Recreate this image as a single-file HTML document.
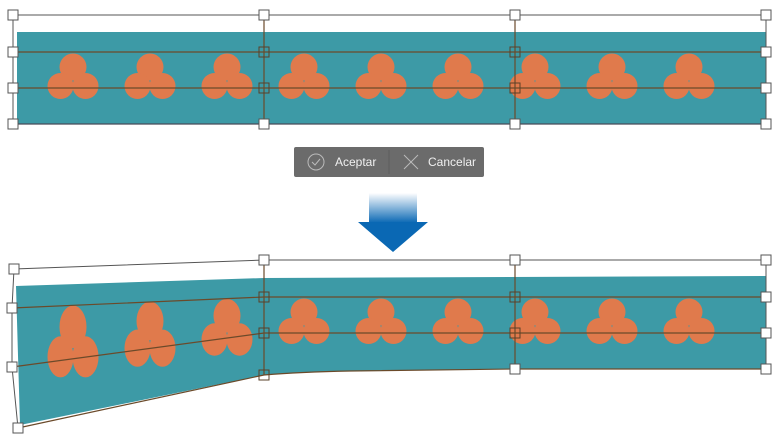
<!DOCTYPE html>
<html><head><meta charset="utf-8"><style>html,body{margin:0;padding:0;background:#fff}svg{display:block}</style></head><body>
<svg width="782" height="439" viewBox="0 0 782 439" xmlns="http://www.w3.org/2000/svg" font-family="Liberation Sans, sans-serif">
<defs>
<g id="tf" fill="#e07a4c"><circle cx="0" cy="-21" r="13.5"/><circle cx="-12.5" cy="-2" r="13"/><circle cx="12.5" cy="-2" r="13"/></g>
<linearGradient id="ag" x1="0" y1="0" x2="0" y2="1"><stop offset="0" stop-color="#ffffff"/><stop offset="1" stop-color="#0a68b4"/></linearGradient>
<g id="h"><rect x="-5" y="-5" width="10" height="10" fill="#fff" stroke="#555" stroke-width="1"/></g>
<g id="hb"><rect x="-5" y="-5" width="10" height="10" fill="none" stroke="#5a4028" stroke-width="1"/></g>
</defs>
<!-- TOP -->
<rect x="17" y="32" width="749" height="92" fill="#3d9aa6"/>
<g>
<use href="#tf" x="73" y="88"/><use href="#tf" x="150" y="88"/><use href="#tf" x="227" y="88"/>
<use href="#tf" x="304" y="88"/><use href="#tf" x="381" y="88"/><use href="#tf" x="458" y="88"/>
<use href="#tf" x="535" y="88"/><use href="#tf" x="612" y="88"/><use href="#tf" x="689" y="88"/>
</g>
<g stroke="#6b4a2a" stroke-width="1.2" fill="none">
<line x1="13" y1="52" x2="766" y2="52"/><line x1="13" y1="88" x2="766" y2="88"/>
<line x1="264" y1="15" x2="264" y2="124"/><line x1="515" y1="15" x2="515" y2="124"/>
</g>
<line x1="17" y1="124" x2="766" y2="124" stroke="#1a2a6a" stroke-width="1.2"/>
<g stroke="#555" stroke-width="1" fill="none"><rect x="13" y="15" width="753" height="109"/></g>
<g>
<use href="#h" x="13" y="15"/><use href="#h" x="264" y="15"/><use href="#h" x="515" y="15"/><use href="#h" x="766" y="15"/>
<use href="#h" x="13" y="52"/><use href="#h" x="13" y="88"/><use href="#h" x="13" y="124"/>
<use href="#hb" x="264" y="52"/><use href="#hb" x="264" y="88"/><use href="#h" x="264" y="124"/>
<use href="#hb" x="515" y="52"/><use href="#hb" x="515" y="88"/><use href="#h" x="515" y="124"/>
<use href="#h" x="766" y="52"/><use href="#h" x="766" y="88"/><use href="#h" x="766" y="124"/>
</g>
<!-- toolbar -->
<rect x="294" y="147" width="190" height="30" rx="2" fill="#6b6b6b"/>
<line x1="389" y1="150" x2="389" y2="174" stroke="#5c5c5c"/>
<circle cx="316" cy="162" r="8" fill="none" stroke="#bbb" stroke-width="1"/>
<polyline points="312,162 315,165 320,159" fill="none" stroke="#bbb" stroke-width="1"/>
<text x="335" y="166" font-size="12" fill="#f0f0f0">Aceptar</text>
<g stroke="#bbb" stroke-width="1"><line x1="404" y1="155" x2="418" y2="169"/><line x1="418" y1="155" x2="404" y2="169"/></g>
<text x="428" y="166" font-size="12" fill="#f0f0f0">Cancelar</text>
<!-- arrow -->
<rect x="369" y="193" width="48" height="30" fill="url(#ag)"/>
<polygon points="358,222 428,222 393,252" fill="#0a68b4"/>
<!-- BOTTOM -->
<path d="M16,286 L264,278 L766,276 L766,369 L515,369 L350,371 Q300,372 264,375 L20,425 Z" fill="#3d9aa6"/>
<g transform="translate(73,360) scale(1,1.58) translate(-73,-88)"><use href="#tf" x="73" y="88"/></g>
<g transform="translate(150,351) scale(1,1.43) translate(-150,-88)"><use href="#tf" x="150" y="88"/></g>
<g transform="translate(227,342) scale(1,1.25) translate(-227,-88)"><use href="#tf" x="227" y="88"/></g>
<use href="#tf" x="304" y="333"/><use href="#tf" x="381" y="333"/><use href="#tf" x="458" y="333"/>
<use href="#tf" x="535" y="333"/><use href="#tf" x="612" y="333"/><use href="#tf" x="689" y="333"/>
<g stroke="#6b4a2a" stroke-width="1.2" fill="none">
<polyline points="12,308 264,297 766,297"/>
<polyline points="12,367 264,333 766,333"/>
<path d="M18,428 L264,375 Q300,372 350,371 L515,369 L766,369"/>
<line x1="264" y1="260" x2="264" y2="375"/><line x1="515" y1="260" x2="515" y2="369"/>
</g>
<g stroke="#555" stroke-width="1" fill="none">
<polyline points="12,308 14,269 264,260 766,260 766,369"/>
<polyline points="12,308 12,367 18,428"/>
</g>
<g>
<use href="#h" x="14" y="269"/><use href="#h" x="264" y="260"/><use href="#h" x="515" y="260"/><use href="#h" x="766" y="260"/>
<use href="#h" x="12" y="308"/><use href="#h" x="12" y="367"/><use href="#h" x="18" y="428"/>
<use href="#hb" x="264" y="297"/><use href="#hb" x="264" y="333"/><use href="#hb" x="264" y="375"/>
<use href="#hb" x="515" y="297"/><use href="#hb" x="515" y="333"/><use href="#h" x="515" y="369"/>
<use href="#h" x="766" y="297"/><use href="#h" x="766" y="333"/><use href="#h" x="766" y="369"/>
</g>
</svg>
</body></html>
